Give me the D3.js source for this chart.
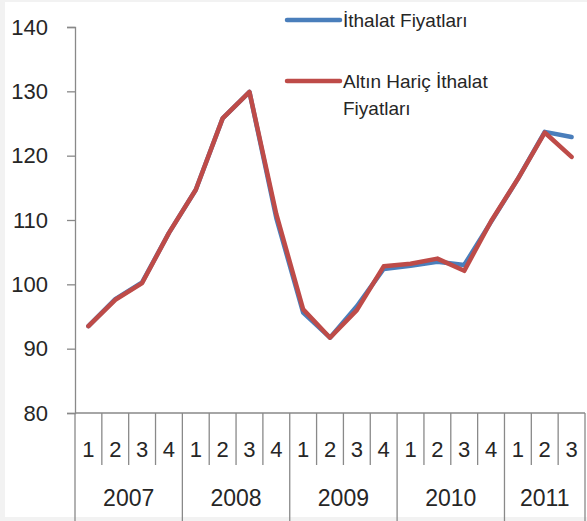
<!DOCTYPE html>
<html><head><meta charset="utf-8">
<script src="https://cdn.jsdelivr.net/npm/d3@7"></script>
<style>body{margin:0;background:#f2f2f2;}svg{display:block;}</style>
</head><body>
<script>
const years = ["2007","2008","2009","2010","2011"];
const quarters = ["1","2","3","4","1","2","3","4","1","2","3","4","1","2","3","4","1","2","3"];
const yearOf = [0,0,0,0,1,1,1,1,2,2,2,2,3,3,3,3,4,4,4];
const ithalat = [93.5,97.7,100.3,108.0,114.7,125.8,129.9,110.3,95.6,91.7,96.6,102.4,102.9,103.5,103.0,109.7,116.4,123.7,122.9];
const altinHaric = [93.5,97.6,100.2,108.0,114.7,125.8,129.9,110.9,96.1,91.7,96.0,102.8,103.2,104.0,102.1,109.8,116.4,123.6,119.8];
const yTicks = [80,90,100,110,120,130,140];
const seriesNames = ["İthalat Fiyatları","Altın Hariç İthalat Fiyatları"];

const W=587,H=521;
const svg=d3.select("body").append("svg").attr("width",W).attr("height",H);
svg.append("rect").attr("x",5).attr("y",2).attr("width",W-5).attr("height",515).attr("fill","#fff");

const x=d3.scaleBand().domain(d3.range(quarters.length)).range([75,585]).padding(0);
const y=d3.scaleLinear().domain([80,140]).range([413,27]);
const font="'Liberation Sans', Arial, sans-serif";
const axisCol="#898989";
const txtCol="#262626";

// y axis
const ya=svg.append("g").attr("transform","translate(75,0)").call(d3.axisLeft(y).tickValues(yTicks).tickSize(8).tickPadding(19));
ya.select(".domain").attr("stroke",axisCol).attr("stroke-width",1.3);
ya.selectAll(".tick line").attr("stroke",axisCol).attr("stroke-width",1.3);
ya.selectAll("text").attr("font-family",font).attr("font-size",22).attr("fill",txtCol);

// x axis
const g=svg.append("g");
g.append("line").attr("x1",75).attr("x2",585).attr("y1",413).attr("y2",413).attr("stroke",axisCol).attr("stroke-width",1.3);
quarters.forEach((q,i)=>{
  const x0=x(i);
  const isYearStart = i===0 || yearOf[i]!==yearOf[i-1];
  g.append("line").attr("x1",x0).attr("x2",x0).attr("y1",413).attr("y2",isYearStart?521:465).attr("stroke",axisCol).attr("stroke-width",1.3);
  g.append("text").attr("x",x0+x.bandwidth()/2).attr("y",457).attr("text-anchor","middle")
    .attr("font-family",font).attr("font-size",22).attr("fill",txtCol).text(q);
});
g.append("line").attr("x1",585).attr("x2",585).attr("y1",413).attr("y2",521).attr("stroke",axisCol).attr("stroke-width",1.3);
years.forEach((yr,k)=>{
  const idx=d3.range(quarters.length).filter(i=>yearOf[i]===k);
  const a=x(idx[0]), b=x(idx[idx.length-1])+x.bandwidth();
  g.append("text").attr("x",(a+b)/2).attr("y",506).attr("text-anchor","middle")
    .attr("font-family",font).attr("font-size",23).attr("fill",txtCol).text(yr);
});

// lines
const line=d3.line().x((d,i)=>x(i)+x.bandwidth()/2).y(d=>y(d));
svg.append("path").datum(ithalat).attr("d",line).attr("fill","none").attr("stroke","#4a7ebb").attr("stroke-width",4.5).attr("stroke-linejoin","round").attr("stroke-linecap","round");
svg.append("path").datum(altinHaric).attr("d",line).attr("fill","none").attr("stroke","#be4b48").attr("stroke-width",4.5).attr("stroke-linejoin","round").attr("stroke-linecap","round");

// legend
const lg=svg.append("g");
lg.append("line").attr("x1",287).attr("x2",340).attr("y1",20).attr("y2",20).attr("stroke","#4a7ebb").attr("stroke-width",4.5).attr("stroke-linecap","round");
lg.append("text").attr("x",343).attr("y",27).attr("font-family",font).attr("font-size",19).attr("fill",txtCol).text(seriesNames[0]);
lg.append("line").attr("x1",287).attr("x2",340).attr("y1",81).attr("y2",81).attr("stroke","#be4b48").attr("stroke-width",4.5).attr("stroke-linecap","round");
const t2=lg.append("text").attr("font-family",font).attr("font-size",19).attr("fill",txtCol);
t2.append("tspan").attr("x",343).attr("y",88).text("Altın Hariç İthalat");
t2.append("tspan").attr("x",343).attr("y",115).text("Fiyatları");
</script>
</body></html>
